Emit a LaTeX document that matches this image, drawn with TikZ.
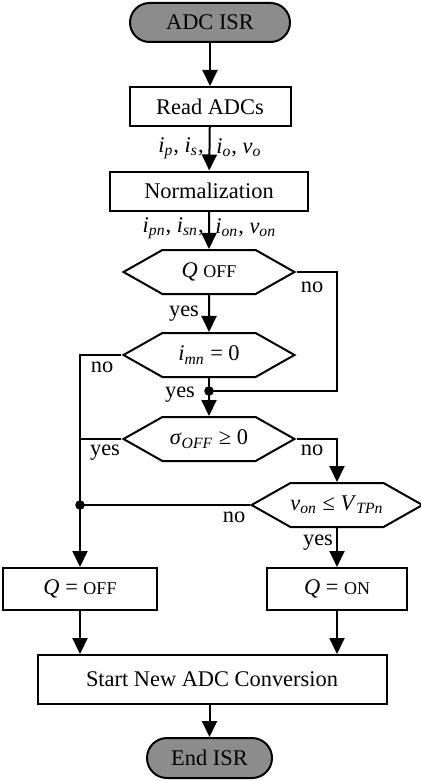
\documentclass[tikz,border=0pt]{standalone}
\usepackage{fontspec}
\setmainfont{Liberation Serif}
\usetikzlibrary{calc,shapes.symbols,arrows.meta}

\newcommand{\vr}[2]{\textit{#1}\textsubscript{\textit{#2}}}
\newcommand{\sm}[1]{{\fontsize{9}{10}\selectfont #1}}

\tikzset{
	box/.style={draw,line width=1pt,inner sep=0pt,minimum height=19.5pt},
	term/.style={draw,line width=1pt,fill=black!45,rounded corners=9.75pt,inner sep=0pt,minimum width=80pt,minimum height=19.5pt},
	hexa/.style={draw,line width=1pt,signal,signal to=east and west,signal pointer angle=59,inner sep=0pt,minimum width=85.5pt,minimum height=22pt},
	arr/.style={line width=1pt,-{Triangle[length=8pt,width=7.5pt]}},
	ln/.style={line width=1pt},
	lbl/.style={anchor=base,inner sep=0pt}
}

\begin{document}
\begin{tikzpicture}[x=0.5pt,y=-0.5pt,font=\fontsize{11.2}{13}\selectfont]
	
	\useasboundingbox (0,0) rectangle (421,781);
	
	\node[term] (isr) at (210,22.5) {ADC ISR};
	
	\node[box,minimum width=80.5pt] (read) at (210,106.5) {Read ADCs};
	
	\node[box,minimum width=99pt] (norm) at (209,191) {Normalization};
	
	\node[hexa] (qoff) at (209,272) {\textit{Q} \sm{OFF}};
	
	\node[hexa] (imn) at (209,355) {\vr{i}{mn} = 0};
	
	\node[hexa] (sig) at (209,439) {\vr{σ}{OFF} ≥ 0};
	
	\node[hexa,minimum width=84pt] (von) at (337,505) {\vr{v}{on} ≤ \vr{V}{TPn}};
	
	\node[box,minimum width=77pt,minimum height=21pt] (setoff) at (80,589) {\textit{Q} = \sm{OFF}};
	
	\node[box,minimum width=70pt,minimum height=21pt] (seton) at (337,589) {\textit{Q} = \sm{ON}};
	
	\node[box,minimum width=174.5pt,minimum height=24.5pt] (start) at (212,679.5) {Start New ADC Conversion};
	
	\node[term,minimum width=62.5pt,minimum height=20pt,rounded corners=10pt] (fin) at (209.5,758) {End ISR};
	
	\node[anchor=east,inner sep=0pt] (sig1) at (204,148) {\vr{i}{p}, \vr{i}{s},};
	\node[anchor=west,inner sep=0pt] (sig2) at (216,148) {\vr{i}{o}, \vr{v}{o}};
	\node[anchor=east,inner sep=0pt] (sig3) at (204,228) {\vr{i}{pn}, \vr{i}{sn},};
	\node[anchor=west,inner sep=0pt] (sig4) at (215,228) {\vr{i}{on}, \vr{v}{on}};
	
	\node[lbl] (no1) at (312,292) {no};
	\node[lbl] (yes1) at (184,316) {yes};
	\node[lbl] (no2) at (102,372) {no};
	\node[lbl] (yes2) at (180,397) {yes};
	\node[lbl] (yes3) at (105,455) {yes};
	\node[lbl] (no3) at (312,455) {no};
	\node[lbl] (no4) at (234,522) {no};
	\node[lbl] (yes4) at (318,545) {yes};
	
	\coordinate (j1) at (209,391);
	\coordinate (j2) at (80,505);
	
	\draw[arr] (isr) -- (read);
	\draw[arr] (read) -- (norm);
	\draw[arr] (norm) -- (qoff);
	\draw[arr] (qoff) -- (imn);
	\draw[ln] (qoff.east) -| (von.north |- j1) -- (j1);
	\draw[ln] (imn) -- (j1);
	\draw[arr] (j1) -- (sig);
	\draw[ln] (imn.west) -| (j2);
	\draw[ln] (sig.west) -- (sig.west -| j2);
	\draw[arr] (sig.east) -| (von);
	\draw[ln] (von.west) -- (j2);
	\draw[arr] (j2) -- (setoff);
	\draw[arr] (von) -- (seton);
	\draw[arr] (setoff) -- (setoff |- start.north);
	\draw[arr] (seton) -- (seton |- start.north);
	\draw[arr] (fin |- start.south) -- (fin);
	\fill (j1) circle (2.4pt);
	\fill (j2) circle (2.4pt);
	
\end{tikzpicture}
\end{document}
